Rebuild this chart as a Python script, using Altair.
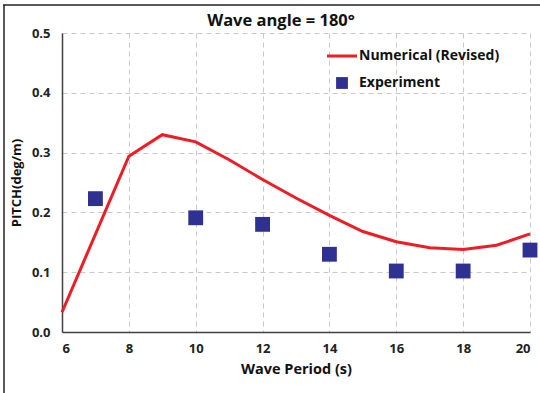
import altair as alt
import pandas as pd

# Data
num_x = [6, 8, 9, 10, 11, 12, 13, 14, 15, 16, 17, 18, 19, 20]
num_y = [0.033, 0.294, 0.330, 0.318, 0.288, 0.255, 0.224, 0.195, 0.168, 0.151, 0.141, 0.138, 0.145, 0.164]
exp_x = [7, 10, 12, 14, 16, 18, 20]
exp_y = [0.223, 0.191, 0.180, 0.130, 0.102, 0.102, 0.137]
x_ticks = [6, 8, 10, 12, 14, 16, 18, 20]
y_ticks = [0.0, 0.1, 0.2, 0.3, 0.4, 0.5]
legend_labels = ["Numerical (Revised)", "Experiment"]
title_text = "Wave angle = 180°"

RED = "#ee1c25"
BLUE = "#2e3192"
FONT = "Open Sans"

num_df = pd.DataFrame({"x": num_x, "y": num_y})
exp_df = pd.DataFrame({"x": exp_x, "y": exp_y})

xs = alt.Scale(domain=[6, 20], nice=False, zero=False)
ys = alt.Scale(domain=[0, 0.5], nice=False)

x_axis = alt.Axis(values=x_ticks, title="Wave Period (s)", format="d",
                  grid=True, gridDash=[5, 4], gridColor="#c8c8c8", gridWidth=1,
                  domainColor="#404040", domainWidth=1.5, ticks=False,
                  labelFont=FONT, labelFontWeight="bold", labelFontSize=13, labelColor="#222",
                  labelPadding=10, titleFont=FONT, titleFontWeight="bold", titleFontSize=14.5,
                  titleColor="#111", titlePadding=7)
y_axis = alt.Axis(values=y_ticks, title="PITCH(deg/m)", format=".1f",
                  grid=True, gridDash=[5, 4], gridColor="#c8c8c8", gridWidth=1,
                  domainColor="#404040", domainWidth=1.5, ticks=False,
                  labelFont=FONT, labelFontWeight="bold", labelFontSize=13, labelColor="#222",
                  labelPadding=12, titleFont=FONT, titleFontWeight="bold", titleFontSize=13,
                  titleColor="#111", titlePadding=8)

line = alt.Chart(num_df).mark_line(color=RED, strokeWidth=3).encode(
    x=alt.X("x:Q", scale=xs, axis=x_axis),
    y=alt.Y("y:Q", scale=ys, axis=y_axis),
)
pts = alt.Chart(exp_df).mark_square(color=BLUE, size=220, opacity=1).encode(
    x=alt.X("x:Q", scale=xs),
    y=alt.Y("y:Q", scale=ys),
)

# Title as text
title_df = pd.DataFrame({"t": [title_text]})
title = alt.Chart(title_df).mark_text(align="center", baseline="middle", font=FONT,
                                      fontWeight="bold", fontSize=16.5, color="#111").encode(
    x=alt.value(219), y=alt.value(-12), text="t:N")

# Legend
leg_df = pd.DataFrame({"label": legend_labels})
leg_line = alt.Chart(leg_df.iloc[[0]]).mark_rule(color=RED, strokeWidth=3).encode(
    x=alt.value(265), x2=alt.value(295), y=alt.value(23))
leg_sq = alt.Chart(leg_df.iloc[[1]]).mark_square(color=BLUE, size=140, opacity=1).encode(
    x=alt.value(280), y=alt.value(50))
leg_txt1 = alt.Chart(leg_df.iloc[[0]]).mark_text(align="left", baseline="middle", font=FONT,
                                                  fontWeight="bold", fontSize=14, color="#111").encode(
    x=alt.value(297), y=alt.value(23), text="label:N")
leg_txt2 = alt.Chart(leg_df.iloc[[1]]).mark_text(align="left", baseline="middle", font=FONT,
                                                  fontWeight="bold", fontSize=14, color="#111").encode(
    x=alt.value(297), y=alt.value(50), text="label:N")

# figure frame (top and left edges)
frame_top = alt.Chart(leg_df.iloc[[0]]).mark_rule(color="#222", strokeWidth=1.5).encode(
    x=alt.value(-59), x2=alt.value(480), y=alt.value(-28))
frame_left = alt.Chart(leg_df.iloc[[0]]).mark_rule(color="#222", strokeWidth=1.5).encode(
    x=alt.value(-58), y=alt.value(-28), y2=alt.value(365))

chart = alt.layer(line, pts, title, leg_line, leg_sq, leg_txt1, leg_txt2, frame_top, frame_left).properties(
    width=468, height=299,
    autosize=alt.AutoSizeParams(type="none"),
    padding={"left": 62, "top": 33, "right": 10, "bottom": 61},
    background="white",
).configure_view(stroke=None)

chart.save("out.html", embed_options={"renderer": "svg", "actions": False})
